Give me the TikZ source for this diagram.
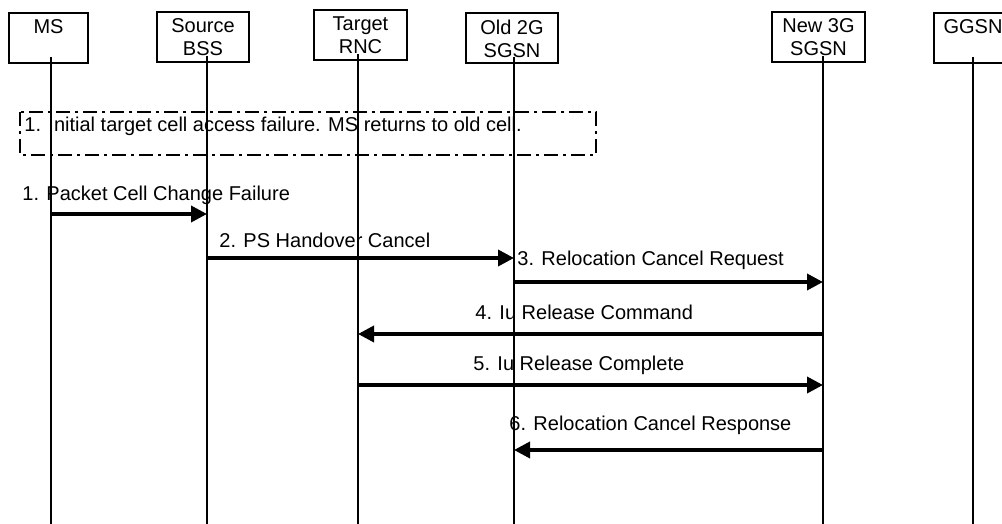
\documentclass[tikz,border=0pt]{standalone}
\usepackage{fontspec}
\setmainfont{Liberation Sans}
\usetikzlibrary{arrows.meta}

\begin{document}
\begin{tikzpicture}[x=0.5pt, y=-0.5pt,
  entity/.style={draw, line width=1pt, minimum height=25pt, inner sep=0pt,
    align=center, font=\fontsize{10}{11.5}\selectfont},
  life/.style={line width=0.9pt},
  msg/.style={line width=1.8pt, -{Triangle[length=8pt,width=8pt]}},
  lbl/.style={anchor=base west, inner sep=0pt, font=\fontsize{10}{12}\selectfont},
  note/.style={line width=1.4pt, dash pattern=on 7pt off 2.5pt on 1.5pt off 2.5pt}]

\useasboundingbox (0,0) rectangle (1002,524);
\clip (0,0) rectangle (1002,524);

% entities
\node[entity, minimum width=39.5pt] (msbox)   at (48.5,38)  {MS\\~};
\node[entity, minimum width=46pt]   (bssbox)  at (203,37.5) {Source\\BSS};
\node[entity, minimum width=46.5pt] (rncbox)  at (360.5,35.5) {Target\\RNC};
\node[entity, minimum width=46pt]   (oldbox)  at (512,38.5) {Old 2G\\SGSN};
\node[entity, minimum width=46.5pt] (newbox)  at (818.5,37.5) {New 3G\\SGSN};
\node[entity, minimum width=39pt]   (ggsnbox) at (973,38)   {GGSN\\~};

% lifelines
\coordinate (ms)   at (51,57);
\coordinate (bss)  at (207,56);
\coordinate (rnc)  at (358,54);
\coordinate (old)  at (514,57);
\coordinate (new)  at (823,56);
\coordinate (ggsn) at (973,57);
\coordinate (bot)  at (0,524);

\foreach \e in {ms,bss,rnc,old,new,ggsn}
  \draw[life] (\e) -- (\e |- bot);

% note
\draw[note] (20,112) rectangle (596,155);
\node[lbl] (fail) at (24,132) {1. Initial target cell access failure. MS returns to old cell.};

% messages
\coordinate (r1) at (0,214);
\coordinate (r2) at (0,258);
\coordinate (r3) at (0,282);
\coordinate (r4) at (0,334);
\coordinate (r5) at (0,385);
\coordinate (r6) at (0,450);

\draw[msg] (ms |- r1) -- (bss |- r1);
\draw[msg] (bss |- r2) -- (old |- r2);
\draw[msg] (old |- r3) -- (new |- r3);
\draw[msg] (new |- r4) -- (rnc |- r4);
\draw[msg] (rnc |- r5) -- (new |- r5);
\draw[msg] (new |- r6) -- (old |- r6);

\node[lbl] (l1) at (22,200)  {1. Packet Cell Change Failure};
\node[lbl] (l2) at (219,248) {2. PS Handover Cancel};
\node[lbl] (l3) at (517,265) {3. Relocation Cancel Request};
\node[lbl] (l4) at (475,319) {4. Iu Release Command};
\node[lbl] (l5) at (473,370) {5. Iu Release Complete};
\node[lbl] (l6) at (509,430) {6. Relocation Cancel Response};

\end{tikzpicture}
\end{document}
